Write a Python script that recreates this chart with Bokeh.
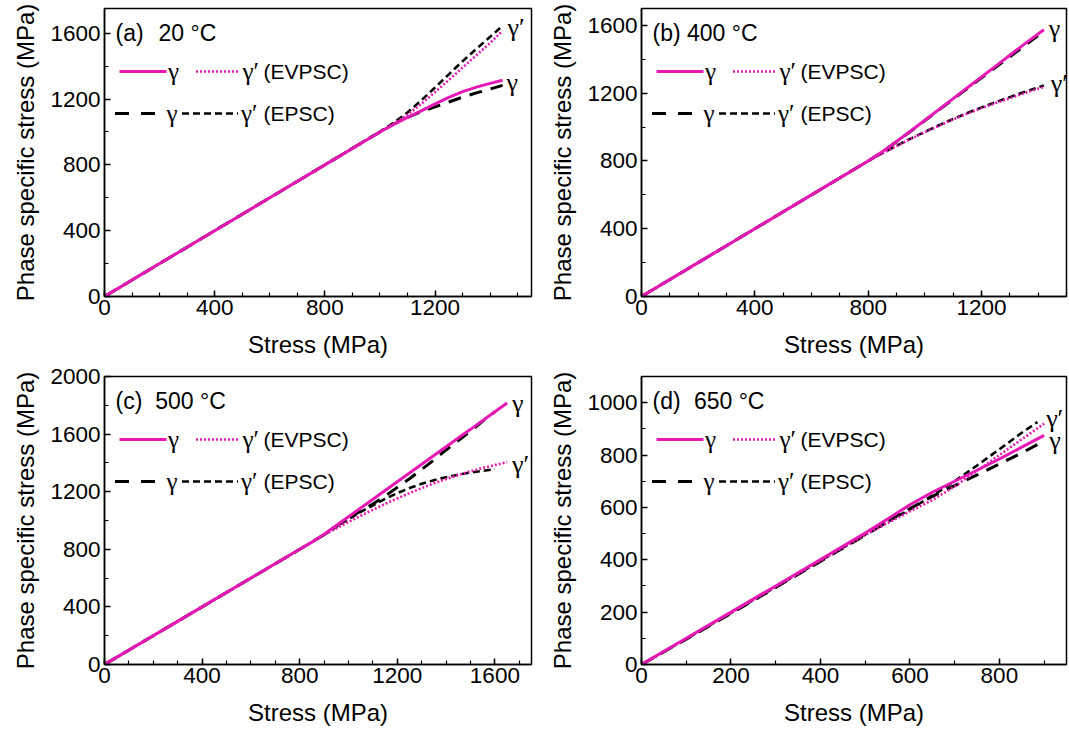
import numpy as np
from bokeh.plotting import figure
from bokeh.layouts import column, row
from bokeh.models import FixedTicker, Label, Range1d
from bokeh.core.properties import value
from bokeh.embed import file_html
from bokeh.resources import INLINE

# ---------------- data ----------------
# (a) 20 °C
a_stress   = [0, 200, 400, 600, 800, 1000, 1050, 1100, 1150, 1200, 1250, 1300, 1350, 1400, 1445]
a_g_evpsc  = [0, 200, 400, 600, 800, 1000, 1045, 1088, 1128, 1170, 1210, 1245, 1272, 1295, 1314]
a_gp_evpsc = [0, 200, 400, 600, 800, 1000, 1050, 1105, 1170, 1242, 1316, 1391, 1466, 1541, 1615]
a_g_epsc   = [0, 200, 400, 600, 800, 1000, 1048, 1088, 1123, 1152, 1182, 1211, 1237, 1261, 1283]
a_gp_epsc  = [0, 200, 400, 600, 800, 1002, 1056, 1118, 1192, 1270, 1350, 1430, 1505, 1578, 1645]

# (b) 400 °C
b_stress   = [0, 200, 400, 600, 800, 850, 900, 950, 1000, 1050, 1100, 1150, 1200, 1250, 1300, 1350, 1420]
b_g_evpsc  = [0, 200, 400, 600, 800, 855, 915, 977, 1040, 1104, 1168, 1232, 1296, 1360, 1424, 1488, 1575]
b_gp_evpsc = [0, 200, 400, 600, 800, 845, 888, 930, 970, 1008, 1045, 1080, 1112, 1142, 1170, 1200, 1237]
b_g_epsc   = [0, 200, 400, 600, 800, 853, 913, 975, 1038, 1102, 1165, 1228, 1291, 1353, 1415, 1478, 1566]
b_gp_epsc  = [0, 200, 400, 600, 800, 846, 890, 932, 972, 1011, 1048, 1083, 1116, 1147, 1177, 1207, 1246]

# (c) 500 °C
c_stress_evpsc = [0, 400, 800, 850, 900, 950, 1000, 1050, 1100, 1150, 1200, 1250, 1300, 1350, 1400, 1450, 1500, 1550, 1600, 1650]
c_g_evpsc  = [0, 400, 800, 850, 904, 965, 1026, 1087, 1147, 1208, 1269, 1330, 1390, 1451, 1512, 1573, 1633, 1694, 1755, 1816]
c_gp_evpsc = [0, 400, 800, 850, 900, 945, 990, 1033, 1075, 1115, 1153, 1190, 1225, 1258, 1288, 1316, 1342, 1365, 1385, 1405]
c_stress_epsc = [0, 400, 800, 850, 900, 950, 1000, 1050, 1100, 1150, 1200, 1250, 1300, 1350, 1400, 1450, 1500, 1550, 1600]
c_g_epsc   = [0, 400, 800, 850, 902, 960, 1020, 1065, 1115, 1170, 1230, 1290, 1355, 1420, 1490, 1555, 1620, 1690, 1755]
c_gp_epsc  = [0, 400, 800, 850, 900, 955, 1010, 1060, 1105, 1150, 1190, 1225, 1255, 1280, 1300, 1318, 1333, 1345, 1356]

# (d) 650 °C
d_stress_evpsc = [0, 100, 200, 300, 400, 500, 550, 600, 650, 700, 750, 800, 850, 900]
d_g_evpsc  = [0, 100, 200, 300, 401, 502, 556, 610, 658, 700, 742, 785, 830, 875]
d_gp_evpsc = [0, 99, 198, 297, 396, 495, 540, 585, 628, 680, 740, 800, 860, 920]
d_stress_epsc = [0, 100, 200, 300, 400, 500, 550, 600, 650, 700, 750, 800, 850, 885]
d_g_epsc   = [0, 97, 195, 294, 394, 494, 546, 596, 642, 683, 724, 766, 808, 840]
d_gp_epsc  = [0, 98, 197, 296, 396, 496, 545, 592, 645, 700, 760, 822, 885, 926]

# tick labels
a_xticks = [0, 400, 800, 1200]
a_yticks = [0, 400, 800, 1200, 1600]
b_xticks = [0, 400, 800, 1200]
b_yticks = [0, 400, 800, 1200, 1600]
c_xticks = [0, 400, 800, 1200, 1600]
c_yticks = [0, 400, 800, 1200, 1600, 2000]
d_xticks = [0, 200, 400, 600, 800]
d_yticks = [0, 200, 400, 600, 800, 1000]

panel_tags = ["(a)", "(b)", "(c)", "(d)"]
panel_temps = ["20 °C", "400 °C", "500 °C", "650 °C"]

# ---------------- styling ----------------
MAG = "#e619b5"
SANS = "Liberation Sans"
SERIF = "Liberation Serif"
TICK_FS = "22.5px"
LAB_FS = "24px"
LEG_FS = "21px"
GAM_FS = "25px"


def panel(xr, yr, xt, yt, xstep, ystep, width, height, bl, br, bt, bb):
    p = figure(width=width, height=height, x_range=Range1d(*xr), y_range=Range1d(*yr),
               output_backend="svg", toolbar_location=None,
               min_border_left=bl, min_border_right=br, min_border_top=bt, min_border_bottom=bb,
               background_fill_color="white", border_fill_color="white")
    p.xgrid.visible = False
    p.ygrid.visible = False
    p.outline_line_color = "black"
    p.outline_line_width = 1.5
    p.outline_line_alpha = 1.0
    p.xaxis.ticker = FixedTicker(ticks=xt, minor_ticks=list(np.arange(xr[0], xr[1] + 1, xstep)))
    p.yaxis.ticker = FixedTicker(ticks=yt, minor_ticks=list(np.arange(yr[0], yr[1] + 1, ystep)))
    for ax in (p.xaxis[0], p.yaxis[0]):
        ax.axis_line_color = "black"
        ax.axis_line_width = 1.5
        ax.major_tick_line_color = "black"
        ax.major_tick_line_width = 1.5
        ax.minor_tick_line_color = "black"
        ax.minor_tick_line_width = 1.2
        ax.major_tick_in = 6
        ax.major_tick_out = 0
        ax.minor_tick_in = 4
        ax.minor_tick_out = 0
        ax.major_label_text_font = SANS
        ax.major_label_text_font_size = TICK_FS
        ax.major_label_text_color = "black"
        ax.axis_label_text_font = SANS
        ax.axis_label_text_font_size = LAB_FS
        ax.axis_label_text_font_style = "normal"
        ax.axis_label_text_color = "black"
    p.xaxis.axis_label = "Stress (MPa)"
    p.yaxis.axis_label = "Phase specific stress (MPa)"
    p.xaxis.major_label_standoff = 3
    p.xaxis.axis_label_standoff = 13
    p.yaxis.major_label_standoff = 4
    p.yaxis.axis_label_standoff = 8
    return p


def curves(p, xe, ge, gpe, xp, gp_, gpp):
    p.line(xp, gp_, line_color="black", line_width=3, line_dash="13 9")
    p.line(xp, gpp, line_color="black", line_width=2.6, line_dash="7 4")
    p.line(xe, gpe, line_color=MAG, line_width=2.6, line_dash="2 2")
    p.line(xe, ge, line_color=MAG, line_width=3)


def legend_and_tag(p, xr, yr, fw, fh, tag, temp, temp_off):
    def X(off):
        return xr[0] + off / fw * (xr[1] - xr[0])

    def Y(off):
        return yr[1] - off / fh * (yr[1] - yr[0])

    r1, r2 = 63, 105
    p.line([X(15), X(62)], [Y(r1)] * 2, line_color=MAG, line_width=3)
    p.line([X(91.5), X(135.5)], [Y(r1)] * 2, line_color=MAG, line_width=2.6, line_dash="2 2")
    p.line([X(10.5), X(50.5)], [Y(r2)] * 2, line_color="black", line_width=3, line_dash="14 12")
    p.line([X(77.5), X(133.5)], [Y(r2)] * 2, line_color="black", line_width=2.6, line_dash="7 4")
    common = dict(text_baseline="middle", text_align="left", text_color="black")
    p.text(x=[X(63.5), X(138)], y=[Y(r1)] * 2, text=["γ", "γ′"],
           text_font=value(SERIF), text_font_size=GAM_FS, **common)
    p.text(x=[X(62), X(136.5)], y=[Y(r2)] * 2, text=["γ", "γ′"],
           text_font=value(SERIF), text_font_size=GAM_FS, **common)
    p.text(x=[X(159), X(159)], y=[Y(r1), Y(r2)], text=["(EVPSC)", "(EPSC)"],
           text_font=value(SANS), text_font_size=LEG_FS, **common)
    p.text(x=[X(11), X(temp_off)], y=[Y(24)] * 2, text=[tag, temp],
           text_font=value(SANS), text_font_size="23px", **common)


def end_label(p, x, y, txt, dx, dy):
    p.add_layout(Label(x=x, y=y, text=txt, x_offset=dx, y_offset=dy,
                       text_font=SERIF, text_font_size="26px", text_color="black",
                       text_baseline="middle", text_align="left"))


# ---------------- panels ----------------
W1, W2 = 537, 532
H1, H2 = 364, 369
BL = 104
BR1, BR2 = 6, 3
BT1, BB1 = 8, 68
BT2, BB2 = 12, 69

# (a)
xr, yr = (0, 1550), (0, 1750)
pa = panel(xr, yr, a_xticks, a_yticks, 100, 200, W1, H1, BL, BR1, BT1, BB1)
curves(pa, a_stress, a_g_evpsc, a_gp_evpsc, a_stress, a_g_epsc, a_gp_epsc)
legend_and_tag(pa, xr, yr, W1 - BL - BR1, H1 - BT1 - BB1, panel_tags[0], panel_temps[0], 54)
end_label(pa, a_stress[-1], a_gp_epsc[-1], "γ′", 5, -2)
end_label(pa, a_stress[-1], a_g_evpsc[-1], "γ", 4, -2)

# (b)
xr, yr = (0, 1500), (0, 1700)
pb = panel(xr, yr, b_xticks, b_yticks, 100, 200, W2, H1, BL, BR2, BT1, BB1)
curves(pb, b_stress, b_g_evpsc, b_gp_evpsc, b_stress, b_g_epsc, b_gp_epsc)
legend_and_tag(pb, xr, yr, W2 - BL - BR2, H1 - BT1 - BB1, panel_tags[1], panel_temps[1], 45.5)
end_label(pb, b_stress[-1], b_g_evpsc[-1], "γ", 5, 1)
end_label(pb, b_stress[-1], b_gp_epsc[-1], "γ′", 7, 2)

# (c)
xr, yr = (0, 1750), (0, 2000)
pc = panel(xr, yr, c_xticks, c_yticks, 100, 200, W1, H2, BL, BR1, BT2, BB2)
curves(pc, c_stress_evpsc, c_g_evpsc, c_gp_evpsc, c_stress_epsc, c_g_epsc, c_gp_epsc)
legend_and_tag(pc, xr, yr, W1 - BL - BR1, H2 - BT2 - BB2, panel_tags[2], panel_temps[2], 50.7)
end_label(pc, c_stress_evpsc[-1], c_g_evpsc[-1], "γ", 5, -1)
end_label(pc, c_stress_evpsc[-1], c_gp_evpsc[-1], "γ′", 5, -2)

# (d)
xr, yr = (0, 950), (0, 1100)
pd_ = panel(xr, yr, d_xticks, d_yticks, 100, 100, W2, H2, BL, BR2, BT2, BB2)
curves(pd_, d_stress_evpsc, d_g_evpsc, d_gp_evpsc, d_stress_epsc, d_g_epsc, d_gp_epsc)
legend_and_tag(pd_, xr, yr, W2 - BL - BR2, H2 - BT2 - BB2, panel_tags[3], panel_temps[3], 52.4)
end_label(pd_, d_stress_evpsc[-1], d_gp_evpsc[-1], "γ′", 2, 5)
end_label(pd_, d_stress_evpsc[-1], d_g_evpsc[-1], "γ", 5, -5)

layout = column(row(pa, pb, spacing=0), row(pc, pd_, spacing=0), spacing=0)

with open("out.html", "w") as f:
    f.write(file_html(layout, INLINE))
